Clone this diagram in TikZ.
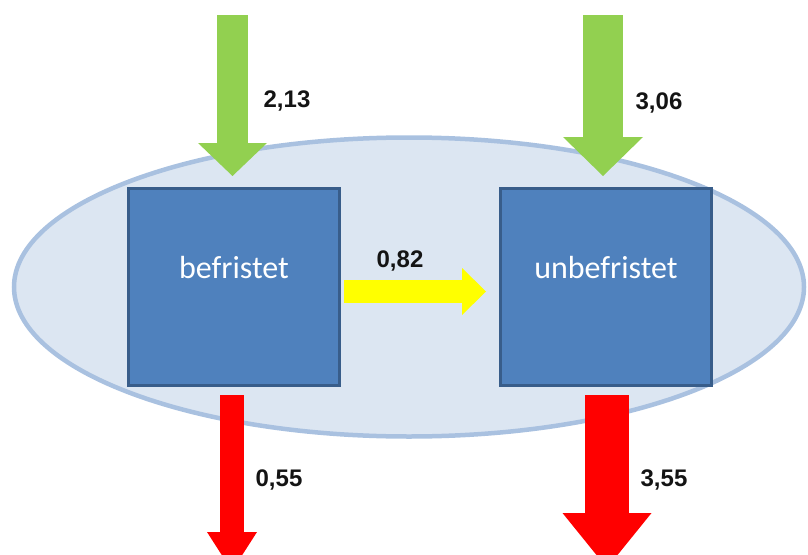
\documentclass[tikz,border=0pt]{standalone}
\usepackage{fontspec}
\setmainfont{Liberation Sans}
\newfontfamily\boxfont{Carlito}
\usetikzlibrary{shapes,arrows.meta}
\definecolor{planefill}{HTML}{DCE6F2}
\definecolor{planeline}{HTML}{A9C1E0}
\definecolor{boxfill}{HTML}{4F81BD}
\definecolor{boxline}{HTML}{385D8A}
\definecolor{inflow}{HTML}{92D050}
\definecolor{outflow}{HTML}{FF0000}
\definecolor{shiftflow}{HTML}{FFFF00}
\definecolor{numtext}{HTML}{141414}

\begin{document}
\begin{tikzpicture}[x=1pt,y=-1pt,
  group/.style={shape=rectangle,draw=boxline,fill=boxfill,line width=3pt,minimum width=211pt,minimum height=197pt,text=white,text height=10pt,text depth=28pt,font=\boxfont\fontsize{32}{38}\selectfont},
  value/.style={text=numtext,font=\bfseries\fontsize{24}{28}\selectfont}]
\useasboundingbox (0,0) rectangle (808,554);

\node[shape=ellipse,draw=planeline,fill=planefill,line width=4.5pt,minimum width=790pt,minimum height=299pt,inner sep=0pt] (0) at (409,287) {};
\node[group] (1) at (234,287) {befristet};
\node[group] (2) at (606,287) {unbefristet};

\coordinate (3) at (232.5,15);
\coordinate (4) at (603,15);
\coordinate (5) at (232,571);
\coordinate (6) at (607,568);

\draw[draw=inflow,line width=31pt,-{Triangle[length=33pt,width=69pt,line width=0pt]},shorten >=11pt] (3) -- (3 |- 1.north);
\draw[draw=inflow,line width=40pt,-{Triangle[length=39pt,width=80pt,line width=0pt]},shorten >=11pt] (4) -- (4 |- 2.north);
\draw[draw=shiftflow,line width=23pt,-{Triangle[length=24pt,width=47pt,line width=0pt]},shorten <=3pt,shorten >=13pt] ([yshift=-4.5pt]1.east) -- ([yshift=-4.5pt]2.west);
\draw[draw=outflow,line width=24pt,-{Triangle[length=39pt,width=50pt,line width=0pt]},shorten <=8pt] (5 |- 1.south) -- (5);
\draw[draw=outflow,line width=44pt,-{Triangle[length=55pt,width=89pt,line width=0pt]},shorten <=8pt] (6 |- 2.south) -- (6);

\node[value] (7) at (287,101) {2,13};
\node[value] (8) at (659,103) {3,06};
\node[value] (9) at (400,261) {0,82};
\node[value] (10) at (279,480) {0,55};
\node[value] (11) at (664,480) {3,55};
\end{tikzpicture}
\end{document}
